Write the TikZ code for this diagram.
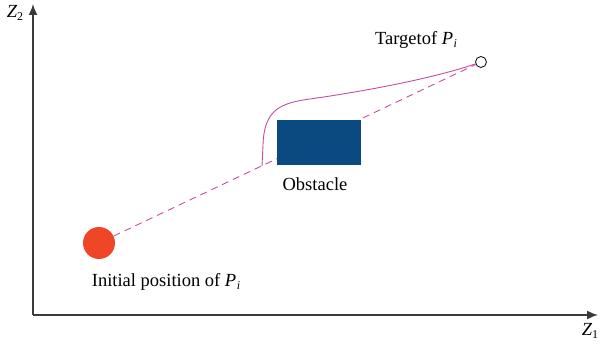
\documentclass[tikz,border=0pt]{standalone}
\usepackage{fontspec}
\setmainfont{Liberation Serif}
\usetikzlibrary{arrows.meta}
\definecolor{axisgray}{HTML}{3A3A3A}
\definecolor{pathmag}{HTML}{C44FA0}
\definecolor{obsblue}{HTML}{0B4A80}
\definecolor{startred}{HTML}{F04628}
\newcommand{\myPi}{\textit{P}\kern0.5pt\raisebox{-0.35ex}{\fontsize{12}{13}\selectfont\textit{i}}}
\begin{document}
\begin{tikzpicture}[x=1pt,y=-1pt,
  axis/.style={draw=axisgray,line width=1.6pt,-{Latex[length=11pt,width=9pt]}},
  lbl/.style={font=\fontsize{18.5}{20}\selectfont,inner sep=0pt},
  route/.style={draw=pathmag,line width=0.9pt}]
\useasboundingbox (0,0) rectangle (600,347);
\coordinate (O) at (33,315);
\coordinate (Ytip) at (33,4);
\coordinate (Xtip) at (598,315);
\draw[axis] (O) -- (Ytip);
\draw[axis] (O) -- (Xtip);
\node[lbl] (z2) at (15,13) {\textit{Z}\raisebox{-0.35ex}{\fontsize{12}{13}\selectfont 2}};
\node[lbl] (z1) at (590,331) {\textit{Z}\raisebox{-0.35ex}{\fontsize{12}{13}\selectfont 1}};
\node[circle,fill=startred,minimum size=32pt,inner sep=0pt] (start) at (99,243) {};
\node[circle,draw=black,line width=0.8pt,minimum size=11pt,inner sep=0pt] (goal) at (481,62) {};
\draw[route,dashed,dash pattern=on 7pt off 5pt] (start) -- (goal);
\node[fill=obsblue,minimum width=84pt,minimum height=45pt,inner sep=0pt] (obs) at (319,142.5) {};
\node[lbl] (obslbl) at (315,184) {Obstacle};
\node[lbl] (startlbl) at (166,282) {Initial position of \myPi};
\node[lbl] (goallbl) at (416,40) {Targetof \myPi};
\coordinate (dev) at (262,166);
\draw[route] (dev) -- (263,145) .. controls (264,110) and (280,103) .. (310,99) .. controls (380,89) and (440,76) .. (goal);
\end{tikzpicture}
\end{document}
